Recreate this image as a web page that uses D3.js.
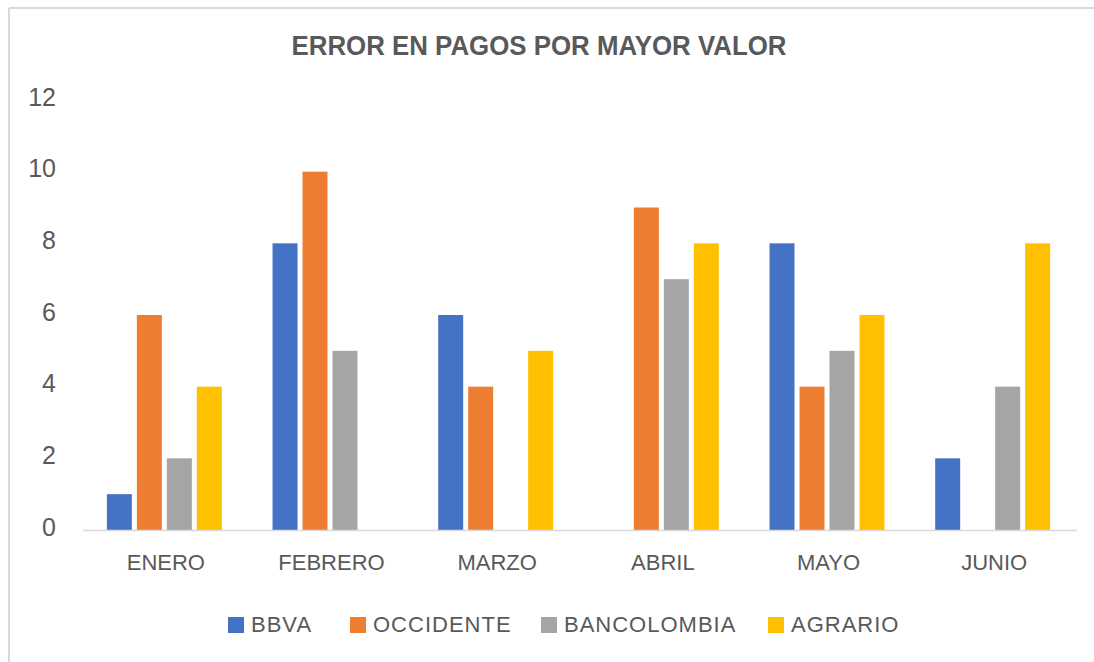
<!DOCTYPE html>
<html>

<head>
    <meta charset="utf-8">
    <title>Error en pagos por mayor valor</title>
    <script type="text/javascript" src="https://d3js.org/d3.v7.min.js"></script>
    <style>
        body { margin: 0; background: #fff; }
        text { font-family: "Liberation Sans", Arial, sans-serif; fill: #595959; }
    </style>
</head>

<body>
    <script type="text/javascript">
        //Data
        var months = ["ENERO", "FEBRERO", "MARZO", "ABRIL", "MAYO", "JUNIO"];
        var banks = ["BBVA", "OCCIDENTE", "BANCOLOMBIA", "AGRARIO"];
        var bbva = [1, 8, 6, 0, 8, 2];
        var occidente = [6, 10, 4, 9, 4, 0];
        var bancolombia = [2, 5, 0, 7, 5, 4];
        var agrario = [4, 0, 5, 8, 6, 8];
        var yTicks = [0, 2, 4, 6, 8, 10, 12];
        var colors = ["#4472C4", "#ED7D31", "#A5A5A5", "#FFC000"];

        var series = [bbva, occidente, bancolombia, agrario];

        //Width and height
        var w = 1094;
        var h = 662;

        var svg = d3.select("body")
            .append("svg")
            .attr("width", w)
            .attr("height", h);

        //Chart frame (only top and left edges show)
        svg.append("line")
            .attr("x1", 9).attr("x2", w)
            .attr("y1", 8).attr("y2", 8)
            .attr("stroke", "#d9d9d9").attr("stroke-width", 2);
        svg.append("line")
            .attr("x1", 9).attr("x2", 9)
            .attr("y1", 8).attr("y2", h)
            .attr("stroke", "#d9d9d9").attr("stroke-width", 2);

        //Title
        svg.append("text")
            .attr("x", 539)
            .attr("y", 55)
            .attr("text-anchor", "middle")
            .attr("textLength", 495)
            .attr("lengthAdjust", "spacingAndGlyphs")
            .style("font-size", "27px")
            .style("font-weight", "bold")
            .text("ERROR EN PAGOS POR MAYOR VALOR");

        //Scales
        var x0 = d3.scaleBand()
            .domain(months)
            .range([83, 1077])
            .paddingInner(0.276)
            .paddingOuter(0.138);

        var x1 = d3.scaleBand()
            .domain(d3.range(banks.length))
            .range([0, x0.bandwidth()]);

        var y = d3.scaleLinear()
            .domain([0, 12])
            .range([530, 100]);

        //Y labels
        var yAxis = d3.axisLeft(y)
            .tickValues(yTicks)
            .tickSize(0)
            .tickPadding(0);

        var gy = svg.append("g")
            .attr("transform", "translate(56,0)")
            .call(yAxis);
        gy.select(".domain").remove();
        gy.selectAll("text")
            .attr("dy", "0.32em")
            .attr("y", -3)
            .style("font-size", "25px")
            .style("font-family", "Liberation Sans, Arial, sans-serif")
            .style("fill", "#595959");

        //Bars
        var groups = svg.selectAll("g.month")
            .data(months)
            .enter()
            .append("g")
            .attr("class", "month")
            .attr("transform", function(d) { return "translate(" + x0(d) + ",0)"; });

        groups.selectAll("rect")
            .data(function(d, i) {
                return series.map(function(s, k) { return { k: k, value: s[i] }; });
            })
            .enter()
            .append("rect")
            .attr("x", function(d) { return x1(d.k) + 1; })
            .attr("width", x1.bandwidth() - 5)
            .attr("y", function(d) { return y(d.value); })
            .attr("height", function(d) { return y(0) - y(d.value); })
            .attr("fill", function(d) { return colors[d.k]; });

        //Baseline
        svg.append("line")
            .attr("x1", 83).attr("x2", 1077)
            .attr("y1", y(0) + 0.5).attr("y2", y(0) + 0.5)
            .attr("stroke", "#d9d9d9").attr("stroke-width", 1.5);

        //X labels
        var xAxis = d3.axisBottom(x0)
            .tickSize(0)
            .tickPadding(0);

        var gx = svg.append("g")
            .attr("transform", "translate(0,570)")
            .call(xAxis);
        gx.select(".domain").remove();
        gx.selectAll("text")
            .attr("dy", 0)
            .style("font-size", "22px")
            .style("font-family", "Liberation Sans, Arial, sans-serif")
            .style("fill", "#595959");

        //Legend
        var legendX = [228, 350, 541, 768];
        var legend = svg.selectAll("g.legend")
            .data(banks)
            .enter()
            .append("g")
            .attr("class", "legend")
            .attr("transform", function(d, i) { return "translate(" + legendX[i] + ",617)"; });

        legend.append("rect")
            .attr("width", 16)
            .attr("height", 16)
            .attr("fill", function(d, i) { return colors[i]; });

        legend.append("text")
            .attr("x", 23)
            .attr("y", 15)
            .style("font-size", "22px")
            .style("letter-spacing", "1px")
            .text(function(d) { return d; });
    </script>
</body>

</html>
